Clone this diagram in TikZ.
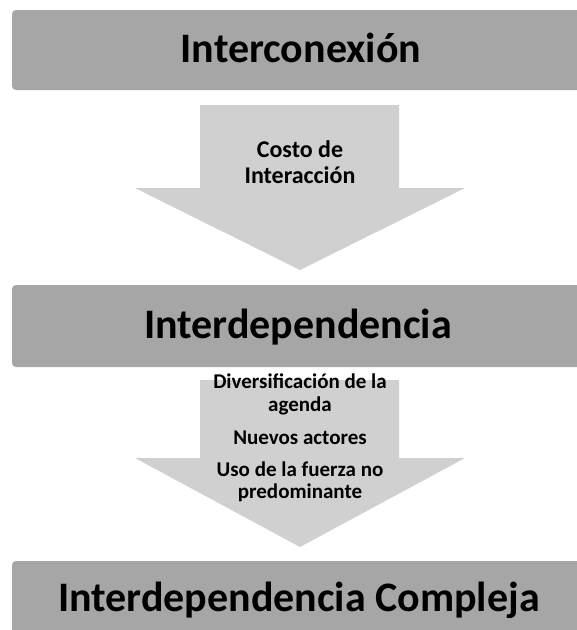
\documentclass[tikz,border=0pt]{standalone}
\usepackage{fontspec}
\setmainfont{Carlito}
\definecolor{boxgray}{HTML}{A6A6A6}
\definecolor{arrowgray}{HTML}{D0D0D0}
\tikzset{
  titlebox/.style={fill=boxgray, draw=none, rounded corners=4pt},
  blockarrow/.style={fill=arrowgray, draw=none},
  titletext/.style={font=\fontsize{42}{46}\selectfont\bfseries, anchor=base, inner sep=0pt},
  arrowtextA/.style={font=\fontsize{24}{26}\selectfont\bfseries, anchor=base, inner sep=0pt},
  arrowtextB/.style={font=\fontsize{21}{23}\selectfont\bfseries, anchor=base, inner sep=0pt}
}
\begin{document}
\begin{tikzpicture}[x=1pt,y=-1pt]
\useasboundingbox (0,0) rectangle (577,630);
\clip (0,0) rectangle (577,630);
% boxes
\path[titlebox] (12,10) rectangle (590,90);
\path[titlebox] (12,285) rectangle (590,367);
\path[titlebox] (12,561) rectangle (590,650);
% arrows
\path[blockarrow] (200,105) -- (399,105) -- (399,188) -- (465,188) -- (300,270) -- (135,188) -- (200,188) -- cycle;
\path[blockarrow] (200,380) -- (399,380) -- (399,458) -- (465,458) -- (300,547) -- (135,458) -- (200,458) -- cycle;
% titles
\node[titletext] (t1) at (301,62) {Interconexión};
\node[titletext] (t2) at (298,338) {Interdependencia};
\node[titletext] (t3) at (299,611) {Interdependencia Compleja};
% arrow 1 text
\node[arrowtextA] (a1) at (300,157) {Costo de};
\node[arrowtextA] (a2) at (300,183) {Interacción};
% arrow 2 text
\node[arrowtextB] (b1) at (300,388) {Diversificación de la};
\node[arrowtextB] (b2) at (300,411) {agenda};
\node[arrowtextB] (b3) at (300,444) {Nuevos actores};
\node[arrowtextB] (b4) at (300,476) {Uso de la fuerza no};
\node[arrowtextB] (b5) at (300,498) {predominante};
\end{tikzpicture}
\end{document}
